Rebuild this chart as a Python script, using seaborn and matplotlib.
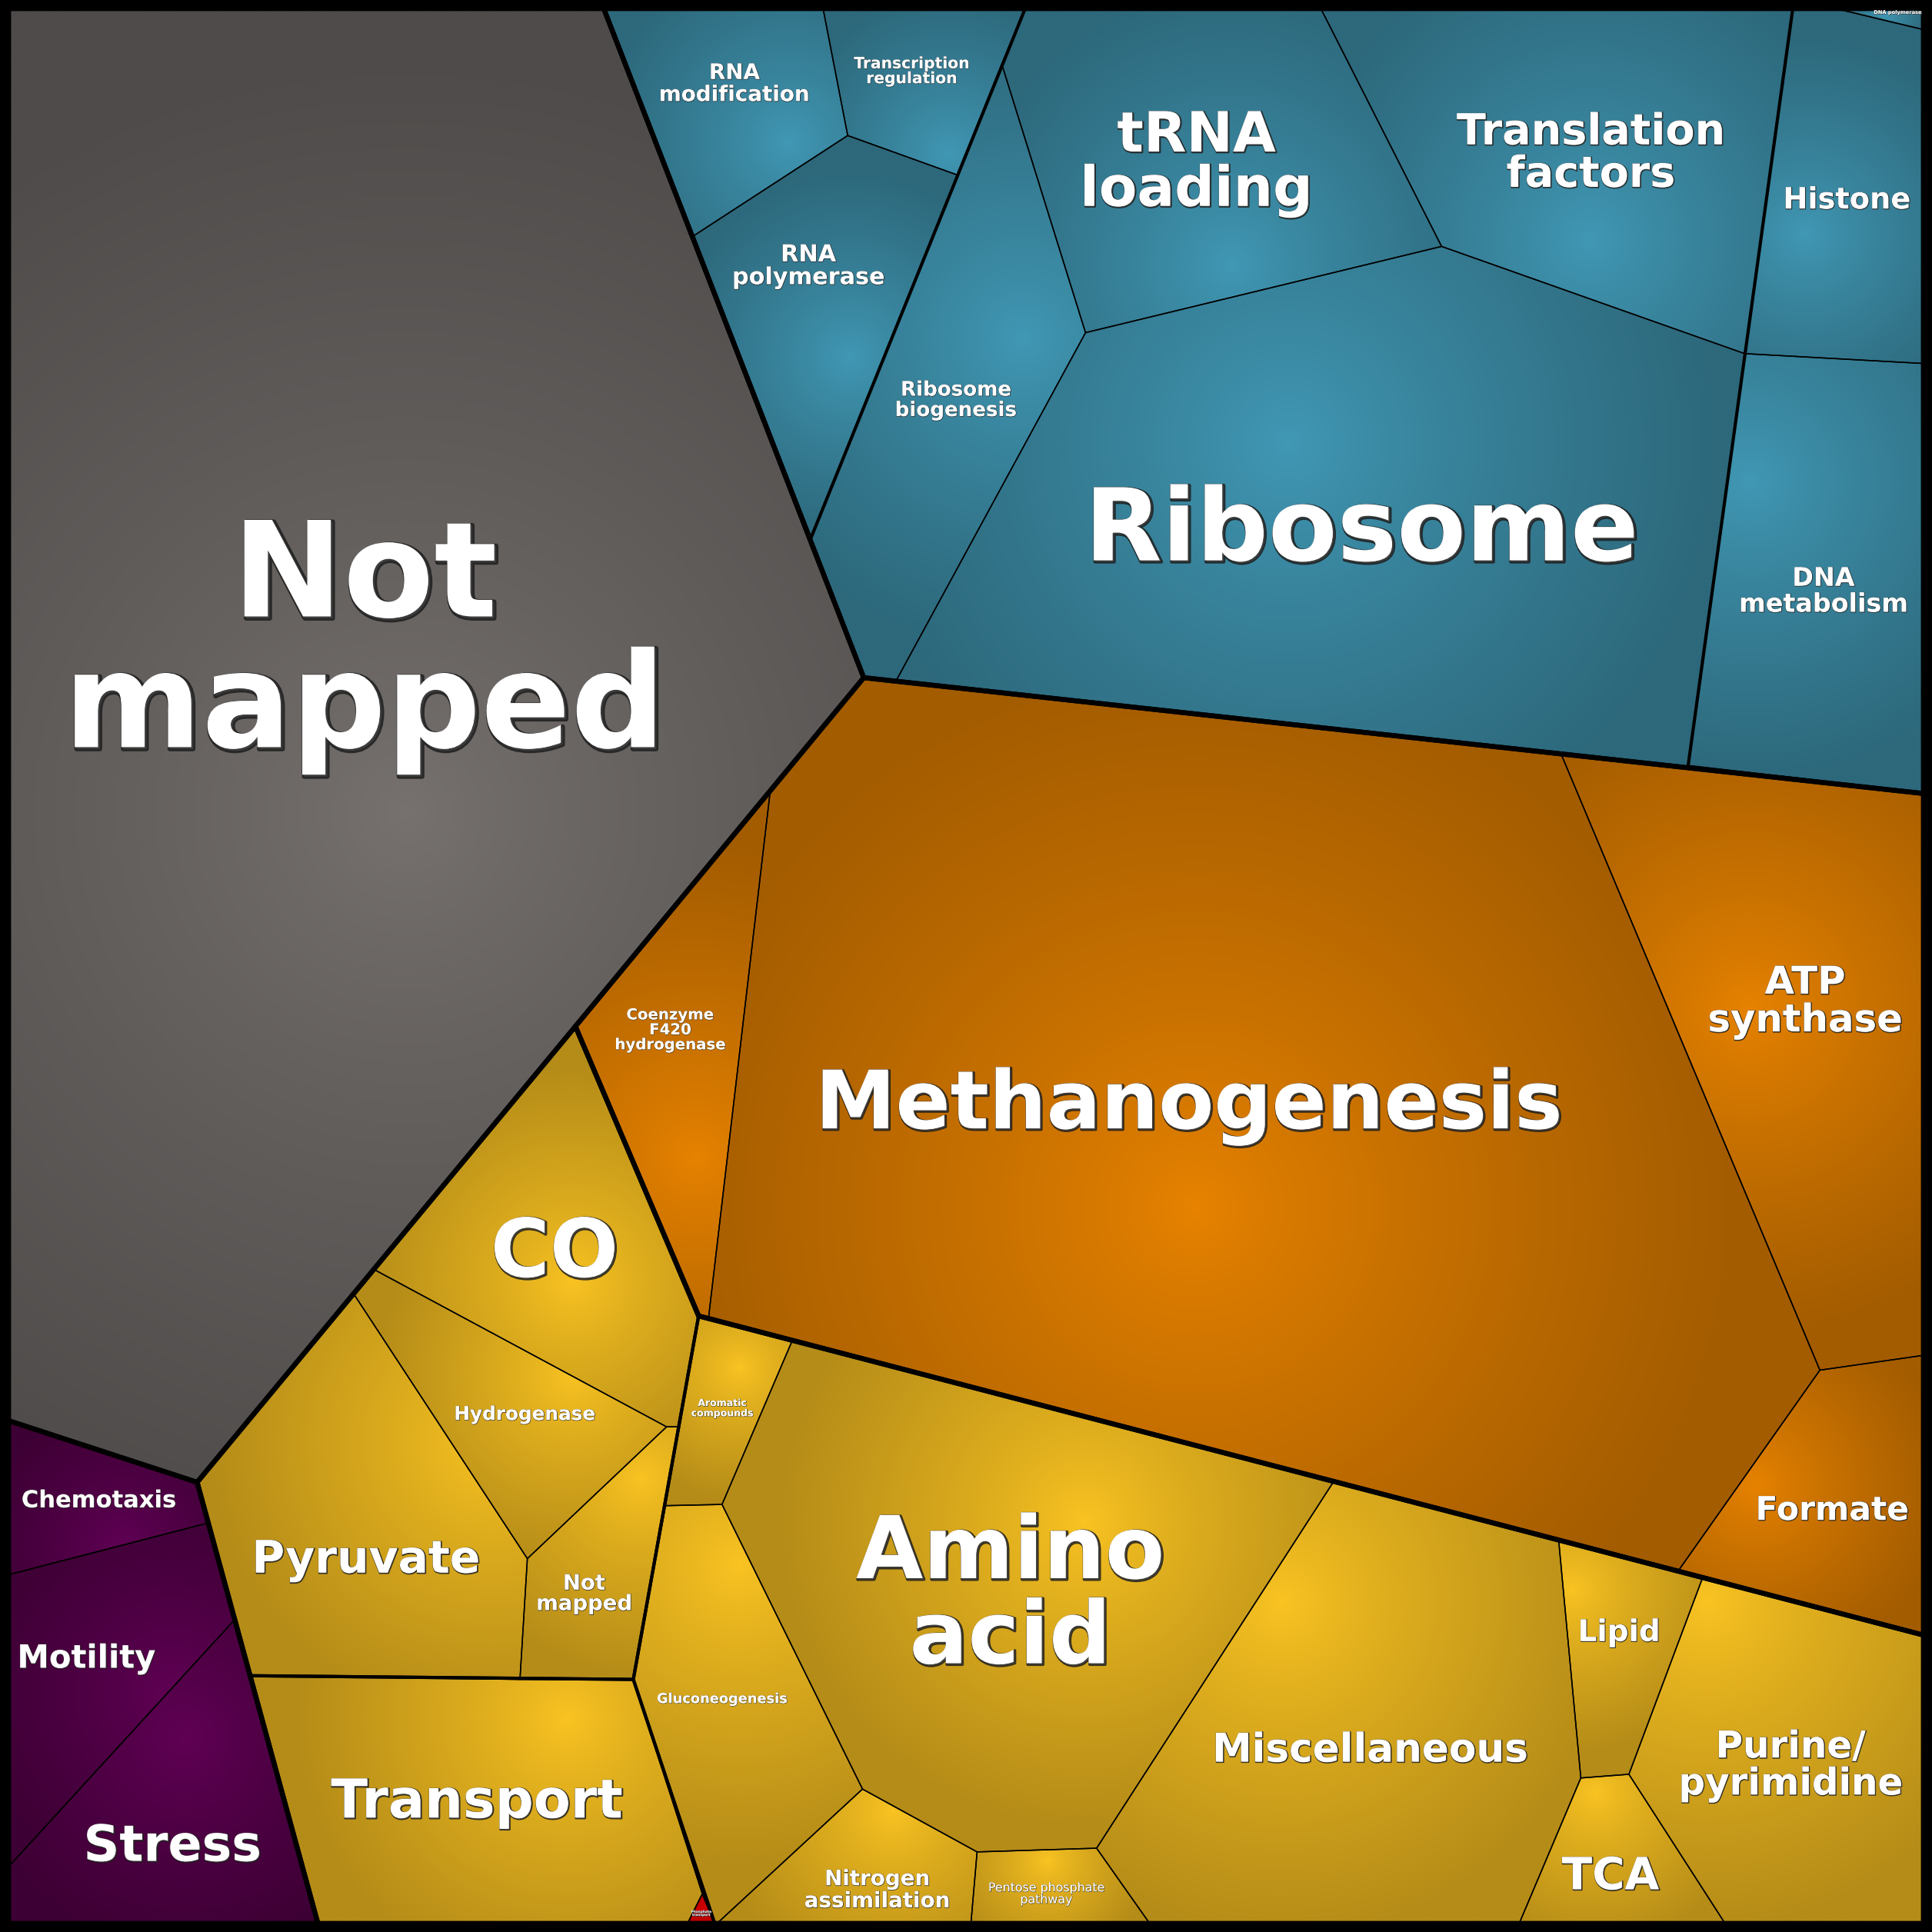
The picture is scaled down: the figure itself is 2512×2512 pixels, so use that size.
import numpy as np
import matplotlib
matplotlib.use("Agg")
import matplotlib.pyplot as plt
import seaborn as sns
from matplotlib.patches import Polygon
import matplotlib.patheffects as pe

# ---------------- data (cells of the Voronoi treemap) ----------------
group_names = ["Not mapped", "Genetic information", "Methane metabolism", "Metabolism", "Cell motility", "Phosphate"]

gray_labels = ["Not\nmapped"]
gray_cells = [[(7, 7), (490, 7), (701, 550), (467, 833), (160, 1203), (7, 1153)]]

blue_labels = ["RNA\nmodification", "Transcription\nregulation", "RNA\npolymerase", "Ribosome\nbiogenesis",
               "tRNA\nloading", "Translation\nfactors", "Ribosome", "Histone", "DNA polymerase", "DNA\nmetabolism"]
blue_cells = [
    [(490, 7), (668, 7), (688, 110), (562, 192)],
    [(668, 7), (832, 7), (777, 142), (688, 110)],
    [(562, 192), (688, 110), (777, 142), (658, 437)],
    [(813, 52), (881, 270), (727, 553), (701, 550), (658, 437)],
    [(832, 7), (1072, 7), (1170, 200), (881, 270), (813, 52)],
    [(1072, 7), (1455, 7), (1416, 287), (1170, 200)],
    [(881, 270), (1170, 200), (1416, 287), (1370, 622), (727, 553)],
    [(1455, 7), (1490, 7), (1561, 24), (1561, 295), (1416, 287)],
    [(1490, 7), (1561, 7), (1561, 24)],
    [(1416, 287), (1561, 295), (1561, 644), (1370, 622)],
]

orange_labels = ["Coenzyme\nF420\nhydrogenase", "Methanogenesis", "ATP\nsynthase", "Formate"]
orange_cells = [
    [(625, 643), (575, 1070), (567, 1068), (467, 833)],
    [(701, 550), (1267, 612), (1477, 1112), (1362, 1275), (575, 1070), (625, 643)],
    [(1267, 612), (1561, 644), (1561, 1100), (1477, 1112)],
    [(1477, 1112), (1561, 1100), (1561, 1327), (1362, 1275)],
]

yellow_labels = ["CO", "Hydrogenase", "Not\nmapped", "Pyruvate", "Transport", "Aromatic\ncompounds",
                 "Gluconeogenesis", "Amino\nacid", "Nitrogen\nassimilation", "Pentose phosphate\npathway",
                 "Miscellaneous", "Lipid", "TCA", "Purine/\npyrimidine"]
yellow_cells = [
    [(467, 833), (567, 1068), (551, 1158), (541, 1158), (303, 1030)],
    [(303, 1030), (541, 1158), (428, 1265), (287, 1050)],
    [(541, 1158), (551, 1158), (514, 1363), (422, 1363), (428, 1265)],
    [(160, 1203), (287, 1050), (428, 1265), (422, 1363), (203, 1360)],
    [(203, 1360), (514, 1363), (570, 1537), (558, 1561), (258, 1561)],
    [(567, 1068), (643, 1088), (586, 1221), (540, 1222)],
    [(540, 1222), (586, 1221), (700, 1452), (582, 1561), (580, 1561), (570, 1537), (514, 1363)],
    [(643, 1088), (1082, 1203), (890, 1500), (793, 1503), (700, 1452), (586, 1221)],
    [(700, 1452), (793, 1503), (788, 1561), (582, 1561)],
    [(793, 1503), (890, 1500), (933, 1561), (788, 1561)],
    [(1082, 1203), (1265, 1250), (1283, 1443), (1233, 1561), (933, 1561), (890, 1500)],
    [(1265, 1250), (1382, 1280), (1322, 1440), (1283, 1443)],
    [(1283, 1443), (1322, 1440), (1400, 1561), (1233, 1561)],
    [(1382, 1280), (1561, 1327), (1561, 1561), (1400, 1561), (1322, 1440)],
]

purple_labels = ["Chemotaxis", "Motility", "Stress"]
purple_cells = [
    [(7, 1153), (160, 1203), (169, 1236), (7, 1278)],
    [(7, 1278), (169, 1236), (190, 1315), (7, 1515)],
    [(7, 1515), (190, 1315), (258, 1561), (7, 1561)],
]

red_labels = ["Phosphate\ntransport"]
red_cells = [[(570, 1537), (580, 1561), (558, 1561)]]

# outlines of top-level groups and of sub-groups
group_outlines = [
    [(7, 7), (490, 7), (701, 550), (467, 833), (160, 1203), (7, 1153)],
    [(490, 7), (1561, 7), (1561, 644), (701, 550)],
    [(701, 550), (1561, 644), (1561, 1327), (567, 1068), (467, 833)],
    [(467, 833), (567, 1068), (1561, 1327), (1561, 1561), (258, 1561), (160, 1203)],
    [(7, 1153), (160, 1203), (258, 1561), (7, 1561)],
]
subgroup_outlines = [
    [(490, 7), (832, 7), (658, 437)],
    [(1455, 7), (1561, 7), (1561, 644), (1370, 622)],
    [(467, 833), (567, 1068), (514, 1363), (203, 1360), (160, 1203)],
    [(203, 1360), (514, 1363), (580, 1561), (258, 1561)],
    [(567, 1068), (1561, 1327), (1561, 1561), (580, 1561), (514, 1363)],
]

# ---------------- layout / style ----------------
# (inner colour, outer colour) of the radial shading per group
group_colors = {
    "gray": ("#77726f", "#4e4b4a"),
    "blue": ("#4199b6", "#2d687b"),
    "orange": ("#e88300", "#a35c00"),
    "yellow": ("#fac422", "#b58c18"),
    "purple": ("#610055", "#3d0034"),
    "red": ("#d40000", "#b80000"),
}

# bright spot of each cell's shading
highlight = {
    "gray": [(330, 660)],
    "blue": [(640, 115), (770, 125), (690, 290), (830, 275), (1000, 215), (1290, 195),
             (1045, 360), (1465, 190), (1530, 12), (1420, 390)],
    "orange": [(565, 940), (970, 980), (1420, 820), (1425, 1205)],
    "yellow": [(465, 1040), (465, 1115), (520, 1200), (400, 1170), (460, 1395), (600, 1110),
               (600, 1270), (880, 1235), (725, 1470), (850, 1510), (1040, 1300), (1275, 1290),
               (1295, 1455), (1385, 1300)],
    "purple": [(100, 1255), (140, 1375), (150, 1410)],
    "red": [(569, 1550)],
}

label_pos = {
    "gray": [(296, 524)],
    "blue": [(596, 68), (740, 58), (656, 216), (776, 325), (971, 133), (1291, 125),
             (1105, 432), (1499, 163), (1540, 10), (1480, 480)],
    "orange": [(544, 836), (965, 898), (1465, 813), (1487, 1226)],
    "yellow": [(450, 1018), (426, 1148), (474, 1294), (297, 1266), (387, 1463), (586, 1143),
               (586, 1379), (820, 1296), (712, 1534), (849, 1537), (1112, 1421), (1314, 1325),
               (1307, 1523), (1453, 1433)],
    "purple": [(80, 1218), (70, 1346), (140, 1499)],
    "red": [(569, 1553)],
}
label_size = {
    "gray": [62],
    "blue": [10, 7.3, 10.9, 9.4, 26, 20, 47, 13.8, 2.4, 12],
    "orange": [7.1, 37.8, 17.9, 15.3],
    "yellow": [37.8, 8.9, 9.9, 21, 25.2, 4.5, 6.4, 40.6, 10, 5.7, 18.6, 14, 20.8, 17.4],
    "purple": [11, 15, 23.4],
    "red": [1.6],
}
label_weight_regular = {"Pentose phosphate\npathway"}

sns.set_theme(style="white")
plt.rcParams["font.family"] = ["DejaVu Sans"]

fig = plt.figure(figsize=(12.56, 12.56), dpi=200, facecolor="black")
ax = fig.add_axes([0, 0, 1, 1])
ax.set_facecolor("black")


def shaded_cell(verts, hl, c_in, c_out):
    v = np.asarray(verts, float)
    poly = Polygon(v, closed=True, facecolor=c_out, edgecolor="none", zorder=1)
    ax.add_patch(poly)
    cx, cy = hl
    x0, y0 = v.min(0)
    x1, y1 = v.max(0)
    nx = max(int((x1 - x0) * 1.6), 4)
    ny = max(int((y1 - y0) * 1.6), 4)
    X, Y = np.meshgrid(np.linspace(x0, x1, nx), np.linspace(y0, y1, ny))
    R = np.max(np.hypot(v[:, 0] - cx, v[:, 1] - cy))
    t = np.clip(np.hypot(X - cx, Y - cy) / (R * 0.85), 0, 1) ** 0.8
    cmap = sns.blend_palette([c_in, c_out], as_cmap=True)
    im = ax.imshow(t, cmap=cmap, vmin=0, vmax=1, extent=(x0, x1, y1, y0), origin="upper",
                   interpolation="bilinear", zorder=2, aspect="auto")
    im.set_clip_path(poly)


all_groups = [("gray", gray_cells, gray_labels), ("blue", blue_cells, blue_labels),
              ("orange", orange_cells, orange_labels), ("yellow", yellow_cells, yellow_labels),
              ("purple", purple_cells, purple_labels), ("red", red_cells, red_labels)]

for key, cells, labels in all_groups:
    c_in, c_out = group_colors[key]
    for verts, hl in zip(cells, highlight[key]):
        shaded_cell(verts, hl, c_in, c_out)
    for verts in cells:
        ax.add_patch(Polygon(verts, closed=True, facecolor="none", edgecolor="black",
                             linewidth=0.55, zorder=3, joinstyle="miter"))

for verts in subgroup_outlines:
    ax.add_patch(Polygon(verts, closed=True, facecolor="none", edgecolor="black",
                         linewidth=1.5, zorder=4, joinstyle="miter"))
for verts in group_outlines:
    ax.add_patch(Polygon(verts, closed=True, facecolor="none", edgecolor="black",
                         linewidth=2.3, zorder=5, joinstyle="miter"))

for key, cells, labels in all_groups:
    for lab, (x, y), fs in zip(labels, label_pos[key], label_size[key]):
        weight = "normal" if lab in label_weight_regular else "bold"
        sw = max(fs * 0.035, 0.25)
        off = max(fs * 0.014, 0.15)
        ax.text(x, y, lab, ha="center", va="center", color="white", fontsize=fs,
                fontweight=weight, linespacing=1.03, zorder=10,
                path_effects=[pe.Stroke(linewidth=sw, foreground="#1e1e1e", alpha=0.85,
                                        offset=(off, -off)),
                              pe.Normal()])

ax.set_xlim(0, 1568)
ax.set_ylim(1568, 0)
ax.axis("off")
fig.savefig("out.png", dpi=200, facecolor="black")
